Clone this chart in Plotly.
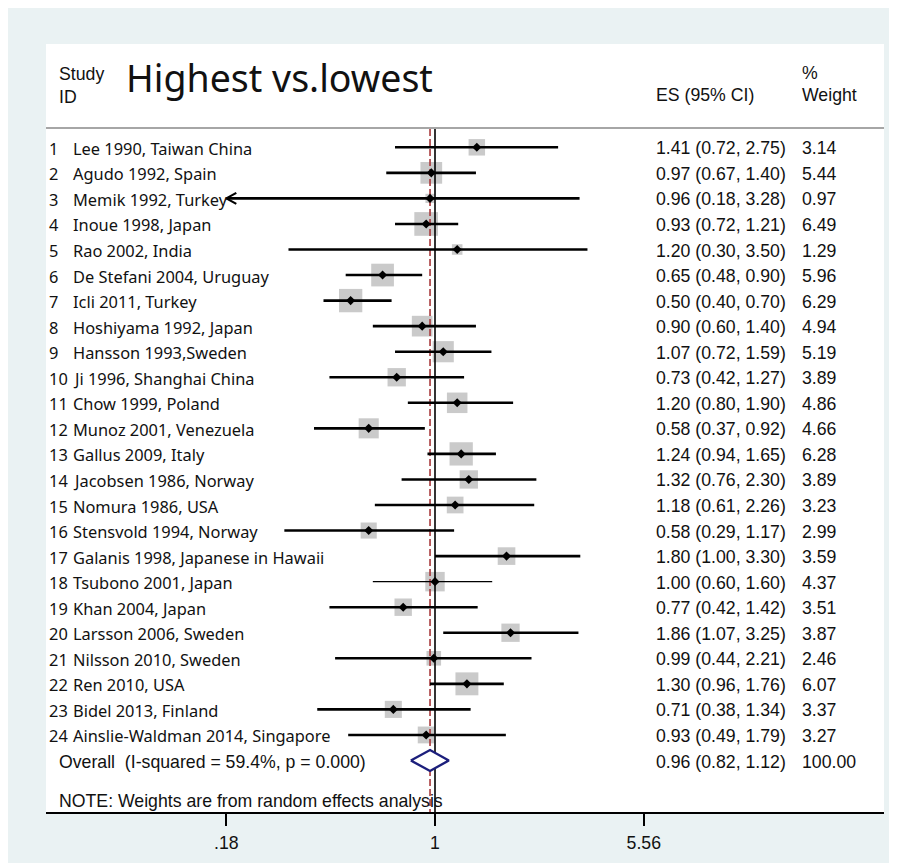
import math
import plotly.graph_objects as go

# ---------------- data ----------------
title_text = "Highest vs.lowest"
study_ids = list(range(1, 25))
studies = [
    "Lee 1990, Taiwan China", "Agudo 1992, Spain", "Memik 1992, Turkey",
    "Inoue 1998, Japan", "Rao 2002, India", "De Stefani 2004, Uruguay",
    "Icli 2011, Turkey", "Hoshiyama 1992, Japan", "Hansson 1993,Sweden",
    "Ji 1996, Shanghai China", "Chow 1999, Poland", "Munoz 2001, Venezuela",
    "Gallus 2009, Italy", "Jacobsen 1986, Norway", "Nomura 1986, USA",
    "Stensvold 1994, Norway", "Galanis 1998, Japanese in Hawaii",
    "Tsubono 2001, Japan", "Khan 2004, Japan", "Larsson 2006, Sweden",
    "Nilsson 2010, Sweden", "Ren 2010, USA", "Bidel 2013, Finland",
    "Ainslie-Waldman 2014, Singapore",
]
es = [1.41, 0.97, 0.96, 0.93, 1.20, 0.65, 0.50, 0.90, 1.07, 0.73, 1.20, 0.58,
      1.24, 1.32, 1.18, 0.58, 1.80, 1.00, 0.77, 1.86, 0.99, 1.30, 0.71, 0.93]
ci_low = [0.72, 0.67, 0.18, 0.72, 0.30, 0.48, 0.40, 0.60, 0.72, 0.42, 0.80, 0.37,
          0.94, 0.76, 0.61, 0.29, 1.00, 0.60, 0.42, 1.07, 0.44, 0.96, 0.38, 0.49]
ci_high = [2.75, 1.40, 3.28, 1.21, 3.50, 0.90, 0.70, 1.40, 1.59, 1.27, 1.90, 0.92,
           1.65, 2.30, 2.26, 1.17, 3.30, 1.60, 1.42, 3.25, 2.21, 1.76, 1.34, 1.79]
weights = [3.14, 5.44, 0.97, 6.49, 1.29, 5.96, 6.29, 4.94, 5.19, 3.89, 4.86, 4.66,
           6.28, 3.89, 3.23, 2.99, 3.59, 4.37, 3.51, 3.87, 2.46, 6.07, 3.37, 3.27]
overall_es = 0.96
overall_low = 0.82
overall_high = 1.12
overall_weight = 100.00
overall_label = "Overall\u00a0\u00a0(I-squared = 59.4%, p = 0.000)"
note_text = "NOTE: Weights are from random effects analysis"
tick_vals = [0.18, 1, 5.56]
tick_text = [".18", "1", "5.56"]
arrow_left_studies = ["Memik 1992, Turkey"]
thin_line_studies = ["Tsubono 2001, Japan"]

# ---------------- layout geometry (page pixels) ----------------
OFF = 8                      # browser body margin
FIG_W, FIG_H = 881, 855
PL, PR, PT, PB = 46, 884, 129, 812
PANEL_TOP = 44
ROW1_PX, ROW_STEP = 147.3, 25.55
X1_PX, PX_PER_LN = 435.0, 121.7
PX_PER_LOG10 = PX_PER_LN * math.log(10)

x_range = [(PL - X1_PX) / PX_PER_LOG10, (PR - X1_PX) / PX_PER_LOG10]
y_top = 1 + (PT - ROW1_PX) / ROW_STEP
y_bot = 1 + (PB - ROW1_PX) / ROW_STEP


def xp(px):
    return (px - PL) / (PR - PL)


def yp(py):
    return (PB - py) / (PB - PT)


LEFT_FONT = "Noto Sans"
RIGHT_FONT = "Liberation Sans, Arial, sans-serif"
TXT = "#111111"
BG = "#eaf2f3"

fig = go.Figure()

rows = list(range(1, len(studies) + 1))
overall_row = len(studies) + 1

# boxes (area proportional to weight)
fig.add_trace(go.Scatter(
    x=es, y=rows, mode="markers",
    marker=dict(symbol="square", size=[9.3 * math.sqrt(w) for w in weights],
                color="#b4b4b4", line=dict(width=0)),
    hoverinfo="skip", showlegend=False))

# reference line at 1 and dashed overall line
fig.add_trace(go.Scatter(x=[1, 1], y=[y_top, y_bot], mode="lines",
                         line=dict(color="black", width=1.6),
                         hoverinfo="skip", showlegend=False))
fig.add_trace(go.Scatter(x=[overall_es, overall_es], y=[y_top, y_bot], mode="lines",
                         line=dict(color="#a8383a", width=1.6, dash="7px,3px"),
                         hoverinfo="skip", showlegend=False))

# CI lines
for thin in (False, True):
    xs, ys = [], []
    for s, r, lo, hi in zip(studies, rows, ci_low, ci_high):
        if (s in thin_line_studies) != thin:
            continue
        xs += [lo, hi, None]
        ys += [r, r, None]
    fig.add_trace(go.Scatter(x=xs, y=ys, mode="lines",
                             line=dict(color="black", width=1.3 if thin else 2.6),
                             hoverinfo="skip", showlegend=False))

# arrow heads for truncated CIs
ARROW_DX = math.exp(10 / PX_PER_LN)
ARROW_DY = 5.5 / ROW_STEP
for s, r, lo in zip(studies, rows, ci_low):
    if s in arrow_left_studies:
        fig.add_trace(go.Scatter(
            x=[lo * ARROW_DX, lo, lo * ARROW_DX], y=[r - ARROW_DY, r, r + ARROW_DY],
            mode="lines", line=dict(color="black", width=2.2),
            hoverinfo="skip", showlegend=False))

# point estimates
fig.add_trace(go.Scatter(x=es, y=rows, mode="markers",
                         marker=dict(symbol="diamond", size=7, color="black"),
                         hoverinfo="skip", showlegend=False))

# overall diamond
DH = 10.5 / ROW_STEP
fig.add_trace(go.Scatter(
    x=[overall_low, overall_es, overall_high, overall_es, overall_low],
    y=[overall_row, overall_row - DH, overall_row, overall_row + DH, overall_row],
    mode="lines", fill="toself", fillcolor="white",
    line=dict(color="#1c1f7c", width=2.4),
    hoverinfo="skip", showlegend=False))

# ---------------- text ----------------
ann = []


def add_text(text, x_px, y, yref="paper", size=17.7, family=RIGHT_FONT, yshift=0):
    ann.append(dict(text=text, x=xp(x_px), xref="paper", y=y, yref=yref,
                    xanchor="left", yanchor="middle", showarrow=False,
                    borderpad=0, yshift=yshift,
                    font=dict(family=family, size=size, color=TXT)))


# headers
add_text("Study", 58, yp(74))
add_text("ID", 58, yp(97.5))
add_text("%", 801, yp(73))
add_text("ES (95% CI)", 655, yp(95.5))
add_text("Weight", 801, yp(95.5))
add_text(title_text, 124.5, yp(77.5), size=37.5, family=LEFT_FONT)

for sid, s, r, e, lo, hi, w in zip(study_ids, studies, rows, es, ci_low, ci_high, weights):
    add_text(str(sid), 48, r, yref="y", size=16.4, family=LEFT_FONT, yshift=-1)
    add_text(s, 71.5, r, yref="y", size=16.4, family=LEFT_FONT, yshift=-1)
    add_text(f"{e:.2f} ({lo:.2f}, {hi:.2f})", 655, r, yref="y", yshift=-1)
    add_text(f"{w:.2f}", 801, r, yref="y", yshift=-1)

add_text(overall_label, 57.5, overall_row, yref="y", yshift=-1)
add_text(f"{overall_es:.2f} ({overall_low:.2f}, {overall_high:.2f})", 655,
         overall_row, yref="y", yshift=-1)
add_text(f"{overall_weight:.2f}", 801, overall_row, yref="y", yshift=-1)
add_text(note_text, 57.5, yp(801))

shapes = [
    dict(type="rect", xref="paper", yref="paper", x0=0, x1=1, y0=1, y1=yp(PANEL_TOP),
         fillcolor="white", line=dict(width=0), layer="below"),
    dict(type="line", xref="paper", yref="paper", x0=0, x1=1, y0=yp(128), y1=yp(128),
         line=dict(color="#a6a6a6", width=2)),
]

fig.update_layout(
    width=FIG_W, height=FIG_H,
    margin=dict(l=PL - OFF, r=FIG_W - (PR - OFF), t=PT - OFF, b=FIG_H - (PB - OFF),
                pad=0, autoexpand=False),
    paper_bgcolor=BG, plot_bgcolor="white",
    showlegend=False,
    annotations=ann, shapes=shapes,
    xaxis=dict(type="log", range=x_range, showgrid=False, zeroline=False,
               showline=True, linecolor="black", linewidth=2,
               ticks="outside", ticklen=12, tickwidth=2, tickcolor="black",
               tickvals=tick_vals, ticktext=tick_text, ticklabelstandoff=2,
               tickfont=dict(family=RIGHT_FONT, size=17.7, color=TXT),
               fixedrange=True),
    yaxis=dict(range=[y_bot, y_top], visible=False, showgrid=False,
               zeroline=False, fixedrange=True),
)

fig.write_html("out.html")
